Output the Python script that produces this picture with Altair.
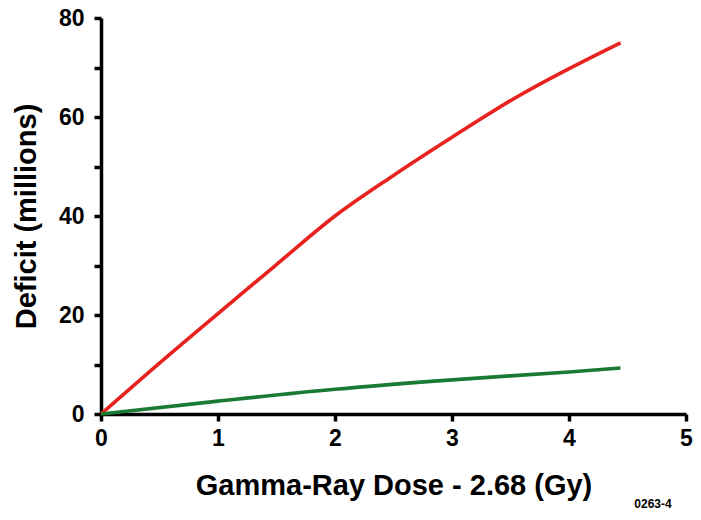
import altair as alt
import pandas as pd

red_x = [0, 0.5, 1, 1.5, 2, 2.5, 3, 3.55, 4.44]
red_y = [0, 10.3, 20.3, 30.2, 40, 48.2, 55.9, 64.0, 75.0]
green_x = [0, 1, 2, 3, 4, 4.44]
green_y = [0, 2.6, 5.0, 6.9, 8.5, 9.3]

df = pd.concat([
    pd.DataFrame({"x": red_x, "y": red_y, "s": "red"}),
    pd.DataFrame({"x": green_x, "y": green_y, "s": "green"}),
])

font = "Liberation Sans"

lines = alt.Chart(df).mark_line(strokeWidth=3.6, clip=False, interpolate="monotone").encode(
    x=alt.X("x:Q", scale=alt.Scale(domain=[0, 5], nice=False),
            axis=alt.Axis(title="Gamma-Ray Dose - 2.68 (Gy)", values=[0, 1, 2, 3, 4, 5],
                          format="d", labelPadding=6, titlePadding=21, labelFlush=False)),
    y=alt.Y("y:Q", scale=alt.Scale(domain=[0, 80], nice=False),
            axis=alt.Axis(title="Deficit (millions)", values=[0, 10, 20, 30, 40, 50, 60, 70, 80],
                          labelExpr="datum.value % 20 == 0 ? datum.label : ''",
                          labelPadding=10, titlePadding=17, labelFlush=False)),
    color=alt.Color("s:N", scale=alt.Scale(domain=["red", "green"], range=["#e8221f", "#197a34"]),
                    legend=None),
    detail="s:N",
)

note = alt.Chart(pd.DataFrame({"t": ["0263-4"]})).mark_text(
    font=font, fontSize=12, fontWeight="bold", color="black", align="center", baseline="middle"
).encode(x=alt.value(552), y=alt.value(486), text="t:N")

chart = alt.layer(lines, note).properties(
    width=585, height=396,
    autosize=alt.AutoSizeParams(type="none"),
    padding={"left": 93, "top": 10, "right": 7, "bottom": 96},
).configure_view(stroke=None).configure_axis(
    grid=False, domainColor="black", domainWidth=3.5,
    tickColor="black", tickWidth=3.5, tickSize=7,
    labelFont=font, labelFontSize=23, labelFontWeight="bold", labelColor="black",
    titleFont=font, titleFontSize=29, titleFontWeight="bold", titleColor="black",
)

chart.save("out.html", embed_options={"renderer": "svg", "actions": False})
